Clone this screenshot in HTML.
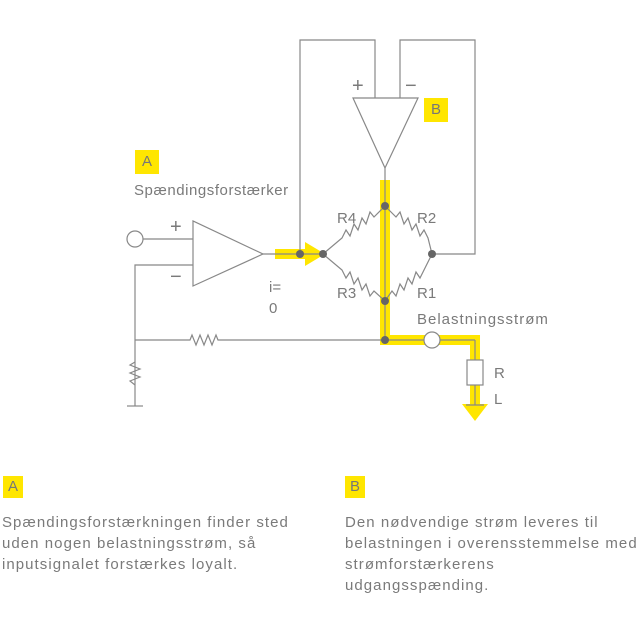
<!DOCTYPE html>
<html><head><style>
html,body{margin:0;padding:0;background:#fff;}
body{width:644px;height:644px;position:relative;overflow:hidden;font-family:"Liberation Sans",sans-serif;color:#777;}
.t{position:absolute;font-size:15px;line-height:21px;color:#7a7a7a;letter-spacing:1.05px;white-space:nowrap;}
.box{position:absolute;background:#ffe600;color:#777;font-size:15px;text-align:center;line-height:22px;}
</style></head><body>
<svg width="644" height="644" style="position:absolute;left:0;top:0" font-family="Liberation Sans, sans-serif">
<g fill="#ffe600" stroke="none">
<rect x="275" y="249" width="32" height="10"/>
<polygon points="305,242 325,254 305,266"/>
<rect x="380" y="180" width="10" height="165"/>
<rect x="380" y="335" width="95" height="10"/>
<rect x="470" y="335" width="10" height="72"/>
<polygon points="462,404 488,404 475,421"/>
</g>
<g fill="none" stroke="#888" stroke-width="1.2">
<polyline points="300,254 300,40 375,40 375,98"/>
<polyline points="400,98 400,40 475,40 475,254 432,254"/>
<polygon points="353,98 418,98 385,168" fill="#fff"/>
<line x1="385" y1="168" x2="385" y2="206"/>
<polygon points="193,221 193,286 263,254" fill="#fff"/>
<line x1="263" y1="254" x2="323" y2="254"/>
<line x1="143" y1="239" x2="193" y2="239"/>
<polyline points="193,265 135,265 135,406"/>
<line x1="127" y1="406" x2="143" y2="406"/>
<polyline points="135,340 190,340 192,335 196,345 200,335 204,345 208,335 212,345 216,335 218,340 385,340 424,340"/>
<line x1="440" y1="340" x2="475" y2="340"/>
<polyline points="475,340 475,360"/>
<rect x="467" y="360" width="16" height="25" fill="#fff"/>
<line x1="475" y1="385" x2="475" y2="405"/>
<line x1="466" y1="405" x2="484" y2="405"/>
<polyline points="135,362 130,365 140,369 130,373 140,377 130,381 135,385"/>
<line x1="385" y1="206" x2="385" y2="340"/>
<polyline points="385,206 374,217 370,212 366,224 362,218 358,230 354,224 350,236 346,230 342,238 323,254"/>
<polyline points="385,206 396,217 400,212 404,224 408,218 412,230 416,224 420,236 424,230 428,238 432,254"/>
<polyline points="323,254 342,270 346,278 350,272 354,284 358,278 362,290 366,284 370,296 374,291 385,301"/>
<polyline points="432,254 424,270 420,278 416,272 412,284 408,278 404,290 400,284 396,296 392,291 385,301"/>
<circle cx="135" cy="239" r="8" fill="#fff"/>
<circle cx="432" cy="340" r="8" fill="#fff"/>
</g>
<g fill="#666">
<circle cx="300" cy="254" r="4"/><circle cx="323" cy="254" r="4"/>
<circle cx="385" cy="206" r="4"/><circle cx="432" cy="254" r="4"/>
<circle cx="385" cy="301" r="4"/><circle cx="385" cy="340" r="4"/>
</g>
<g fill="#7a7a7a" font-size="15">
<text x="170" y="233" font-size="20">+</text>
<text x="170" y="283" font-size="20">−</text>
<text x="352" y="92" font-size="20">+</text>
<text x="405" y="92" font-size="20">−</text>
<text x="337" y="223">R4</text>
<text x="417" y="223">R2</text>
<text x="337" y="298">R3</text>
<text x="417" y="298">R1</text>
<text x="269" y="292">i=</text>
<text x="269" y="313">0</text>
<text x="134" y="195" letter-spacing="0.55">Spændingsforstærker</text>
<text x="417" y="324" letter-spacing="1">Belastningsstrøm</text>
<text x="494" y="378">R</text>
<text x="494" y="404">L</text>
</g>
</svg>
<div class="box" style="left:135px;top:150px;width:24px;height:24px;line-height:24px;">A</div>
<div class="box" style="left:424px;top:98px;width:24px;height:24px;line-height:24px;">B</div>
<div class="box" style="left:3px;top:476px;width:20px;height:22px;">A</div>
<div class="box" style="left:345px;top:476px;width:20px;height:22px;">B</div>
<div class="t" style="left:2px;top:512px;">Spændingsforstærkningen finder sted<br>uden nogen belastningsstrøm, så<br>inputsignalet forstærkes loyalt.</div>
<div class="t" style="left:345px;top:512px;">Den nødvendige strøm leveres til<br>belastningen i overensstemmelse med<br>strømforstærkerens<br>udgangsspænding.</div>
</body></html>
